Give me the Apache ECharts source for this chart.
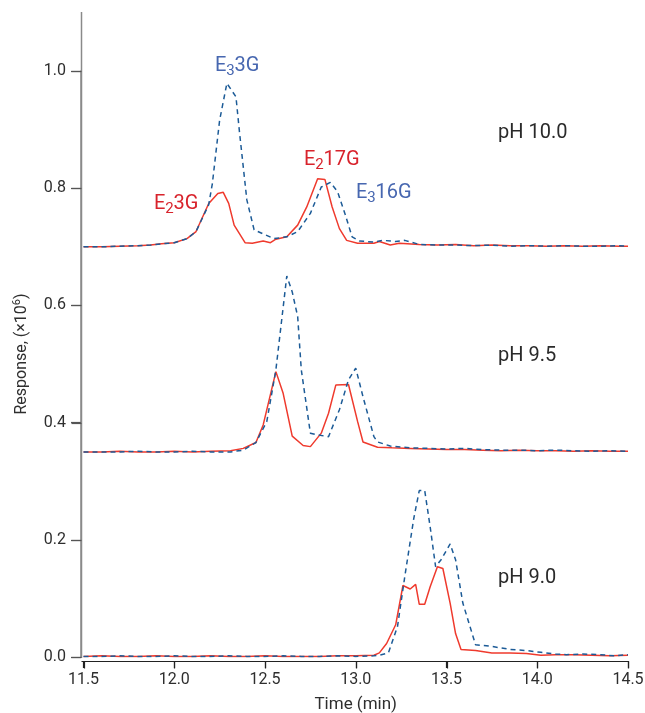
<!DOCTYPE html>
<html>
<head>
<meta charset="utf-8">
<script src="https://cdn.jsdelivr.net/npm/echarts@6/dist/echarts.min.js"></script>
<style>
html,body{margin:0;padding:0;background:#fff;}
#chart{width:645px;height:713px;}
</style>
</head>
<body>
<div id="chart"></div>
<script>
// ---- data ----
const xTicks = [11.5, 12.0, 12.5, 13.0, 13.5, 14.0, 14.5];
const yTicks = [0.0, 0.2, 0.4, 0.6, 0.8, 1.0];

const ph10RedT = [11.50, 11.60, 11.70, 11.80, 11.87, 11.93, 12.00, 12.07, 12.12, 12.19, 12.24, 12.27, 12.30, 12.33, 12.39, 12.43, 12.49, 12.53, 12.56, 12.62, 12.68, 12.73, 12.79, 12.83, 12.87, 12.91, 12.95, 13.01, 13.10, 13.13, 13.19, 13.24, 13.35, 13.45, 13.55, 13.65, 13.75, 13.85, 13.95, 14.05, 14.15, 14.25, 14.35, 14.45, 14.50];
const ph10RedV = [0.700, 0.700, 0.701, 0.702, 0.703, 0.705, 0.707, 0.714, 0.726, 0.774, 0.791, 0.793, 0.774, 0.737, 0.707, 0.706, 0.710, 0.707, 0.713, 0.717, 0.737, 0.768, 0.816, 0.815, 0.768, 0.731, 0.711, 0.706, 0.706, 0.709, 0.703, 0.706, 0.704, 0.703, 0.704, 0.702, 0.703, 0.702, 0.702, 0.701, 0.702, 0.701, 0.702, 0.701, 0.701];

const ph10BlueT = [11.50, 11.60, 11.70, 11.80, 11.87, 11.93, 12.00, 12.07, 12.12, 12.19, 12.21, 12.25, 12.29, 12.34, 12.36, 12.40, 12.44, 12.49, 12.55, 12.62, 12.68, 12.75, 12.81, 12.86, 12.90, 12.94, 12.98, 13.02, 13.10, 13.15, 13.22, 13.27, 13.35, 13.45, 13.55, 13.65, 13.75, 13.85, 13.95, 14.05, 14.15, 14.25, 14.35, 14.45, 14.50];
const ph10BlueV = [0.700, 0.700, 0.701, 0.702, 0.703, 0.705, 0.707, 0.714, 0.726, 0.772, 0.808, 0.916, 0.979, 0.956, 0.894, 0.780, 0.729, 0.722, 0.714, 0.717, 0.726, 0.757, 0.802, 0.810, 0.794, 0.757, 0.717, 0.710, 0.708, 0.711, 0.709, 0.711, 0.704, 0.703, 0.703, 0.702, 0.703, 0.701, 0.702, 0.701, 0.702, 0.701, 0.701, 0.702, 0.701];

const ph95RedT = [11.50, 11.60, 11.70, 11.80, 11.90, 12.00, 12.10, 12.20, 12.31, 12.38, 12.45, 12.49, 12.56, 12.60, 12.65, 12.71, 12.75, 12.81, 12.85, 12.89, 12.96, 13.01, 13.04, 13.12, 13.20, 13.30, 13.40, 13.50, 13.60, 13.70, 13.80, 13.90, 14.00, 14.10, 14.20, 14.30, 14.40, 14.50];
const ph95RedV = [0.350, 0.350, 0.351, 0.350, 0.350, 0.351, 0.350, 0.351, 0.352, 0.356, 0.366, 0.396, 0.487, 0.450, 0.377, 0.361, 0.359, 0.382, 0.416, 0.464, 0.465, 0.402, 0.367, 0.358, 0.357, 0.356, 0.355, 0.354, 0.354, 0.353, 0.352, 0.353, 0.352, 0.352, 0.351, 0.352, 0.351, 0.351];

const ph95BlueT = [11.50, 11.60, 11.70, 11.80, 11.90, 12.00, 12.10, 12.20, 12.31, 12.38, 12.45, 12.51, 12.56, 12.62, 12.65, 12.68, 12.70, 12.75, 12.79, 12.85, 12.91, 12.96, 13.00, 13.04, 13.10, 13.12, 13.19, 13.30, 13.40, 13.50, 13.60, 13.70, 13.80, 13.90, 14.00, 14.10, 14.20, 14.30, 14.40, 14.50];
const ph95BlueV = [0.350, 0.350, 0.350, 0.351, 0.350, 0.350, 0.351, 0.350, 0.350, 0.353, 0.366, 0.402, 0.490, 0.650, 0.623, 0.581, 0.490, 0.382, 0.379, 0.376, 0.422, 0.473, 0.493, 0.444, 0.376, 0.367, 0.360, 0.357, 0.356, 0.355, 0.356, 0.354, 0.353, 0.353, 0.352, 0.353, 0.352, 0.351, 0.352, 0.351];

const ph90RedT = [11.50, 11.60, 11.70, 11.80, 11.90, 12.00, 12.10, 12.20, 12.30, 12.40, 12.50, 12.60, 12.70, 12.80, 12.90, 13.00, 13.10, 13.13, 13.17, 13.22, 13.26, 13.30, 13.33, 13.35, 13.38, 13.41, 13.45, 13.48, 13.52, 13.55, 13.58, 13.66, 13.75, 13.85, 13.94, 14.02, 14.10, 14.20, 14.30, 14.40, 14.50];
const ph90RedV = [0.001, 0.002, 0.001, 0.001, 0.002, 0.001, 0.001, 0.002, 0.001, 0.001, 0.002, 0.001, 0.001, 0.001, 0.002, 0.002, 0.003, 0.007, 0.023, 0.055, 0.122, 0.116, 0.124, 0.090, 0.090, 0.120, 0.154, 0.151, 0.092, 0.040, 0.013, 0.011, 0.007, 0.007, 0.006, 0.003, 0.004, 0.004, 0.003, 0.002, 0.003];

const ph90BlueT = [11.50, 11.60, 11.70, 11.80, 11.90, 12.00, 12.10, 12.20, 12.30, 12.40, 12.50, 12.60, 12.70, 12.80, 12.90, 13.00, 13.10, 13.13, 13.18, 13.23, 13.27, 13.32, 13.35, 13.38, 13.41, 13.44, 13.47, 13.52, 13.55, 13.59, 13.66, 13.75, 13.85, 13.94, 14.02, 14.10, 14.16, 14.25, 14.35, 14.42, 14.50];
const ph90BlueV = [0.001, 0.001, 0.002, 0.001, 0.001, 0.002, 0.001, 0.001, 0.002, 0.001, 0.001, 0.002, 0.001, 0.001, 0.002, 0.001, 0.002, 0.003, 0.007, 0.052, 0.137, 0.237, 0.284, 0.284, 0.222, 0.154, 0.166, 0.193, 0.166, 0.092, 0.021, 0.018, 0.013, 0.011, 0.008, 0.005, 0.004, 0.005, 0.004, 0.002, 0.004];

const phLabels = ['pH 10.0', 'pH 9.5', 'pH 9.0'];

// ---- styles ----
const FONT = 'Roboto, "Liberation Sans", sans-serif';
const RED = '#ef3a2d';
const BLUE = '#1c5b97';
const RED_TXT = '#d8232c';
const BLUE_TXT = '#4767b0';
const AXIS = '#8a8a8a';
const TXT = '#2e2e2e';
const Y_OFFSET = 2.5;   // y-axis line sits this far left of the plot
const X_OFFSET = 4;     // x-axis line sits this far below the plot

function pairs(t, v) { return t.map((x, i) => [x, v[i]]); }
function redSeries(t, v) {
  return { type: 'line', data: pairs(t, v), showSymbol: false, symbol: 'none', z: 3,
    lineStyle: { color: RED, width: 1.5 } };
}
function blueSeries(t, v) {
  return { type: 'line', data: pairs(t, v), showSymbol: false, symbol: 'none', z: 4,
    lineStyle: { color: BLUE, width: 1.5, type: [5, 4] } };
}

// label with subscript, built from plain text pieces (x = left, b = baseline)
function subLabel(x, b, main1, sub, main2, color) {
  const base = { fontFamily: FONT, fill: color, verticalAlign: 'middle', align: 'left' };
  return [
    { type: 'text', x: x, y: b - 7, z: 10, style: Object.assign({ text: main1, fontSize: 20 }, base) },
    { type: 'text', x: x + 11.2, y: b - 1.3, z: 10, style: Object.assign({ text: sub, fontSize: 15 }, base) },
    { type: 'text', x: x + 19.6, y: b - 7, z: 10, style: Object.assign({ text: main2, fontSize: 20 }, base) }
  ];
}

const chart = echarts.init(document.getElementById('chart'), null, { renderer: 'canvas' });

const baseGraphic = [
  { type: 'text', left: 498, top: 123, style: { text: phLabels[0], fontFamily: FONT, fontSize: 20, fill: '#2a2a2a' } },
  { type: 'text', left: 498, top: 346, style: { text: phLabels[1], fontFamily: FONT, fontSize: 20, fill: '#2a2a2a' } },
  { type: 'text', left: 498, top: 568, style: { text: phLabels[2], fontFamily: FONT, fontSize: 20, fill: '#2a2a2a' } }
].concat(
  subLabel(215, 72.5, 'E', '3', '3G', BLUE_TXT),
  subLabel(154, 211, 'E', '2', '3G', RED_TXT),
  subLabel(304, 166.5, 'E', '2', '17G', RED_TXT),
  subLabel(356, 200, 'E', '3', '16G', BLUE_TXT)
);

const option = {
  animation: false,
  backgroundColor: '#ffffff',
  grid: { left: 83.5, right: 17, top: 71, bottom: 56, containLabel: false, outerBoundsMode: 'none' },
  xAxis: {
    type: 'value', min: 11.5, max: 14.5, interval: 0.5, offset: X_OFFSET, z: 20,
    name: 'Time (min)', nameLocation: 'middle', nameGap: 35,
    nameTextStyle: { fontFamily: FONT, fontSize: 17, color: TXT },
    axisLine: { show: true, onZero: false, lineStyle: { color: '#222', width: 1.2 } },
    axisTick: { show: true, inside: false, length: 7, lineStyle: { color: '#222', width: 1.2 } },
    axisLabel: { fontFamily: FONT, fontSize: 16, color: TXT, margin: 11,
      formatter: v => (xTicks.indexOf(v) >= 0 ? v.toFixed(1) : '') },
    splitLine: { show: false }
  },
  yAxis: {
    type: 'value', min: 0, max: 1.0, interval: 0.2, offset: Y_OFFSET, z: 20,
    name: '{a|Response, (×10}{s|6}{a|)}', nameLocation: 'middle', nameGap: 50, nameRotate: 90,
    nameTextStyle: { padding: [0, 0, 0, 20], rich: {
      a: { fontFamily: FONT, fontSize: 16, color: TXT },
      s: { fontFamily: FONT, fontSize: 11, color: TXT, verticalAlign: 'top', padding: [0, 0, 8, 0] }
    } },
    axisLine: { show: true, onZero: false, lineStyle: { color: AXIS, width: 1.5 } },
    axisTick: { show: true, inside: false, length: 10, lineStyle: { color: '#555', width: 1.2 } },
    axisLabel: { fontFamily: FONT, fontSize: 16, color: TXT, margin: 15,
      formatter: v => (yTicks.indexOf(Math.round(v * 10) / 10) >= 0 ? v.toFixed(1) : '') },
    splitLine: { show: false }
  },
  series: [
    redSeries(ph10RedT, ph10RedV), blueSeries(ph10BlueT, ph10BlueV),
    redSeries(ph95RedT, ph95RedV), blueSeries(ph95BlueT, ph95BlueV),
    redSeries(ph90RedT, ph90RedV), blueSeries(ph90BlueT, ph90BlueV)
  ],
  graphic: baseGraphic
};
chart.setOption(option);

// Axis decorations positioned through the chart's own scales (guarantees the
// ticks / baseline axis are visible on the rendered canvas).
const toPx = (x, y) => chart.convertToPixel({ gridIndex: 0 }, [x, y]);
const yAxisX = Math.round(toPx(xTicks[0], 0)[0] - Y_OFFSET) + 0.5;
const xAxisY = Math.round(toPx(xTicks[0], yTicks[0])[1] + X_OFFSET) + 0.5;
const xEnd = toPx(xTicks[xTicks.length - 1], 0)[0];
const topPx = 12;
const deco = [];
deco.push({ type: 'line', z: 30, shape: { x1: yAxisX, y1: topPx, x2: yAxisX, y2: toPx(xTicks[0], 0)[1] + 1 },
  style: { stroke: AXIS, lineWidth: 1.5 } });
deco.push({ type: 'line', z: 30, shape: { x1: yAxisX, y1: xAxisY, x2: xEnd + 0.5, y2: xAxisY },
  style: { stroke: '#222', lineWidth: 1.2 } });
yTicks.forEach(v => {
  const py = Math.round(toPx(xTicks[0], v)[1]) + 0.5;
  deco.push({ type: 'line', z: 30, shape: { x1: yAxisX - 10, y1: py, x2: yAxisX, y2: py },
    style: { stroke: '#555', lineWidth: 1.2 } });
});
xTicks.forEach(t => {
  const px = Math.round(toPx(t, 0)[0]) + 0.5;
  deco.push({ type: 'line', z: 30, shape: { x1: px, y1: xAxisY, x2: px, y2: xAxisY + 7 },
    style: { stroke: '#222', lineWidth: 1.2 } });
});
chart.setOption({ graphic: baseGraphic.concat(deco) });
</script>
</body>
</html>
